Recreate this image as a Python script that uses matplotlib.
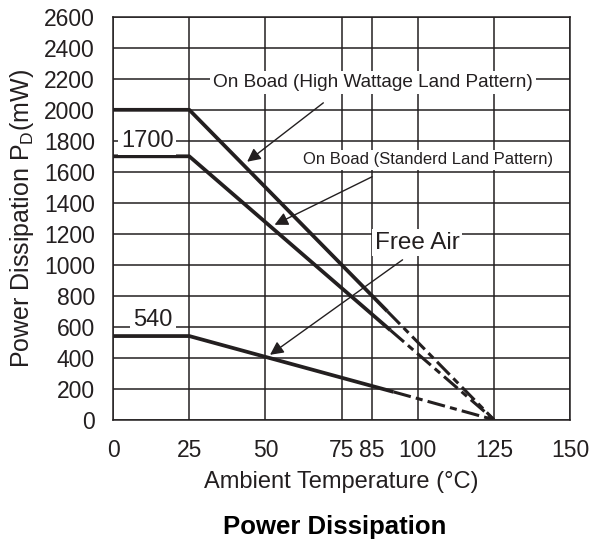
import matplotlib.pyplot as plt

plt.rcParams['font.family'] = ['Liberation Sans', 'DejaVu Sans']
plt.rcParams['mathtext.fontset'] = 'custom'
plt.rcParams['mathtext.rm'] = 'Liberation Sans'

# data
x_ticks = [0, 25, 50, 75, 85, 100, 125, 150]
x_tick_labels = ['0', '25', '50', '75', '85', '100', '125', '150']
y_ticks = list(range(0, 2601, 200))

high_solid_x = [0, 25, 90]
high_solid_y = [2000, 2000, 700]
high_dash_x = [90, 125]
high_dash_y = [700, 0]

std_solid_x = [0, 25, 91]
std_solid_y = [1700, 1700, 578]
std_dash_x = [91, 125]
std_dash_y = [578, 0]

air_solid_x = [0, 25, 92]
air_solid_y = [540, 540, 180]
air_dash_x = [92, 125]
air_dash_y = [180, 0]

ink = '#231f20'

fig = plt.figure(figsize=(5.89, 5.43), dpi=100)
ax = fig.add_axes([0.192, 0.227, 0.776, 0.742])

for xs, ys in [(high_solid_x, high_solid_y), (std_solid_x, std_solid_y), (air_solid_x, air_solid_y)]:
    ax.plot(xs, ys, color=ink, lw=2.7, solid_capstyle='butt', zorder=4)
for xs, ys in [(high_dash_x, high_dash_y), (std_dash_x, std_dash_y), (air_dash_x, air_dash_y)]:
    ax.plot(xs, ys, color=ink, lw=2.2, dashes=(5.9, 1.7, 2.3, 1.7), zorder=4)

ax.set_xlim(0, 150)
ax.set_ylim(0, 2600)
ax.set_xticks(x_ticks)
ax.set_xticklabels(x_tick_labels)
ax.set_yticks(y_ticks)
ax.tick_params(length=0, labelsize=16.5, colors=ink)
ax.tick_params(axis='x', pad=14)
ax.tick_params(axis='y', pad=13)
ax.grid(True, color=ink, lw=1.1)
for s in ax.spines.values():
    s.set_color(ink)
    s.set_linewidth(1.1)

ax.set_xlabel('Ambient Temperature (°C)', fontsize=17, color=ink, labelpad=6)
ax.set_ylabel('Power Dissipation P$_{\\mathrm{D}}$(mW)', fontsize=18, color=ink, labelpad=6)

box = dict(facecolor='white', edgecolor='none', pad=2)
arrow = dict(arrowstyle='-|>', color=ink, lw=1.0, mutation_scale=20, shrinkA=0, shrinkB=0)

ax.annotate('', xy=(44, 1665), xytext=(69, 2045), arrowprops=arrow, zorder=5)
ax.annotate('', xy=(53, 1258), xytext=(85, 1568), arrowprops=arrow, zorder=5)
ax.annotate('', xy=(51.5, 419), xytext=(95, 1032), arrowprops=arrow, zorder=5)

ax.text(85.3, 2174, 'On Boad (High Wattage Land Pattern)', ha='center', va='center',
        fontsize=13.7, color=ink, bbox=box, zorder=6)
ax.text(103.4, 1677, 'On Boad (Standerd Land Pattern)', ha='center', va='center',
        fontsize=12, color=ink, bbox=box, zorder=6)
ax.text(99.8, 1142, 'Free Air', ha='center', va='center',
        fontsize=17.5, color=ink, bbox=box, zorder=6)
ax.text(11.2, 1800, '1700', ha='center', va='center', fontsize=17, color=ink, bbox=box, zorder=6)
ax.text(13.1, 645, '540', ha='center', va='center', fontsize=17, color=ink, bbox=box, zorder=6)

fig.text(0.568, 0.03, 'Power Dissipation', ha='center', va='center',
         fontsize=18.5, fontweight='bold', color='black')

fig.savefig('out.png', dpi=100)
